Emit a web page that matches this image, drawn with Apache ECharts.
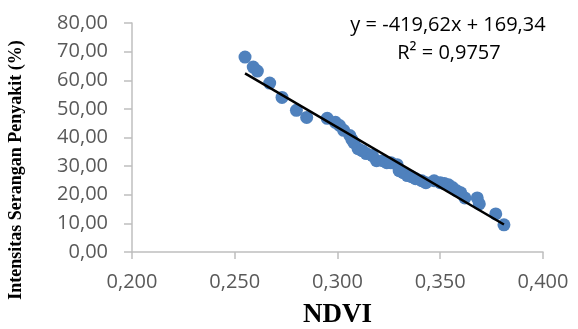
<!DOCTYPE html>
<html>
<head>
<meta charset="utf-8">
<script src="https://cdn.jsdelivr.net/npm/echarts@6/dist/echarts.min.js"></script>
<style>
  html, body { margin: 0; padding: 0; background: #fff; }
  #ndvi_chart { width: 578px; height: 329px; }
</style>
</head>
<body>
<div id="ndvi_chart"></div>
<script>
// NDVI values (x) and disease attack intensity (%)
const ndvi = [
  0.255, 0.259, 0.261, 0.267, 0.273, 0.280, 0.285, 0.295, 0.299, 0.301,
  0.303, 0.306, 0.307, 0.308, 0.310, 0.312, 0.314, 0.317, 0.319, 0.322,
  0.324, 0.326, 0.329, 0.330, 0.332, 0.334, 0.336, 0.338, 0.341, 0.343,
  0.347, 0.350, 0.352, 0.354, 0.356, 0.358, 0.360, 0.362, 0.368, 0.369,
  0.377, 0.381
];
const intensitas = [
  68.1, 64.6, 63.2, 59.0, 54.0, 49.5, 47.0, 46.7, 45.3, 44.2,
  42.5, 40.7, 39.3, 38.2, 36.1, 35.4, 34.4, 33.7, 31.9, 31.9,
  31.2, 31.2, 30.5, 28.4, 27.7, 26.7, 26.3, 25.6, 24.9, 24.2,
  24.9, 24.2, 23.9, 23.5, 22.5, 21.4, 20.7, 18.9, 18.9, 16.8,
  13.3, 9.5
];
// linear trend line end points
const trendX = [0.255, 0.381];
const trendY = [62.4, 9.6];

const equationText = "y = -419,62x + 169,34";
const r2Text = "R² = 0,9757";
const xTitle = "NDVI";
const yTitle = "Intensitas Serangan Penyakit (%)";

const chartInstance = echarts.init(document.getElementById("ndvi_chart"));

const labelFont = "'Open Sans', 'Liberation Sans', sans-serif";
const titleFont = "'Liberation Serif', 'DejaVu Serif', serif";

const initOption = {
  animation: false,
  grid: { left: 132, right: 35, top: 23, bottom: 77, containLabel: false, outerBoundsMode: "none" },
  xAxis: {
    type: "value",
    min: 0.2,
    max: 0.4,
    interval: 0.05,
    name: xTitle,
    nameLocation: "middle",
    nameGap: 50,
    nameTextStyle: { color: "#000", fontFamily: titleFont, fontWeight: "bold", fontSize: 27 },
    axisLine: { show: true, lineStyle: { color: "#bfbfbf", width: 1.5 } },
    axisTick: { show: true, inside: false, length: 7, lineStyle: { color: "#bfbfbf", width: 1.5 } },
    axisLabel: {
      color: "#595959",
      fontFamily: labelFont,
      fontSize: 20,
      margin: 20,
      formatter: (v) => v.toFixed(3).replace(".", ","),
    },
    splitLine: { show: false },
  },
  yAxis: {
    type: "value",
    min: 0,
    max: 80,
    interval: 10,
    axisLine: { show: true, lineStyle: { color: "#bfbfbf", width: 1.5 } },
    axisTick: { show: true, inside: false, length: 8, lineStyle: { color: "#bfbfbf", width: 1.5 } },
    axisLabel: {
      color: "#595959",
      fontFamily: labelFont,
      fontSize: 20,
      margin: 24,
      formatter: (v) => v.toFixed(2).replace(".", ","),
    },
    splitLine: { show: false },
  },
  graphic: [
    {
      type: "text",
      x: 16,
      y: 170,
      rotation: Math.PI / 2,
      style: {
        text: yTitle,
        fill: "#000",
        font: "bold 18px " + titleFont,
        textAlign: "center",
        textVerticalAlign: "middle",
      },
    },
    {
      type: "text",
      x: 448,
      y: 25,
      style: {
        text: equationText,
        fill: "#000",
        font: "20px " + labelFont,
        textAlign: "center",
        textVerticalAlign: "middle",
      },
    },
    {
      type: "text",
      x: 449,
      y: 53,
      style: {
        text: r2Text,
        fill: "#000",
        font: "20px " + labelFont,
        textAlign: "center",
        textVerticalAlign: "middle",
      },
    },
  ],
  series: [
    {
      name: "data",
      type: "scatter",
      symbol: "circle",
      symbolSize: 13,
      itemStyle: { color: "#4f81bd", opacity: 1 },
      data: ndvi.map((x, i) => [x, intensitas[i]]),
      z: 2,
    },
    {
      name: "trend",
      type: "line",
      symbol: "none",
      lineStyle: { color: "#000", width: 2.5 },
      data: trendX.map((x, i) => [x, trendY[i]]),
      z: 3,
    },
  ],
};

chartInstance.setOption(initOption);
</script>
</body>
</html>
